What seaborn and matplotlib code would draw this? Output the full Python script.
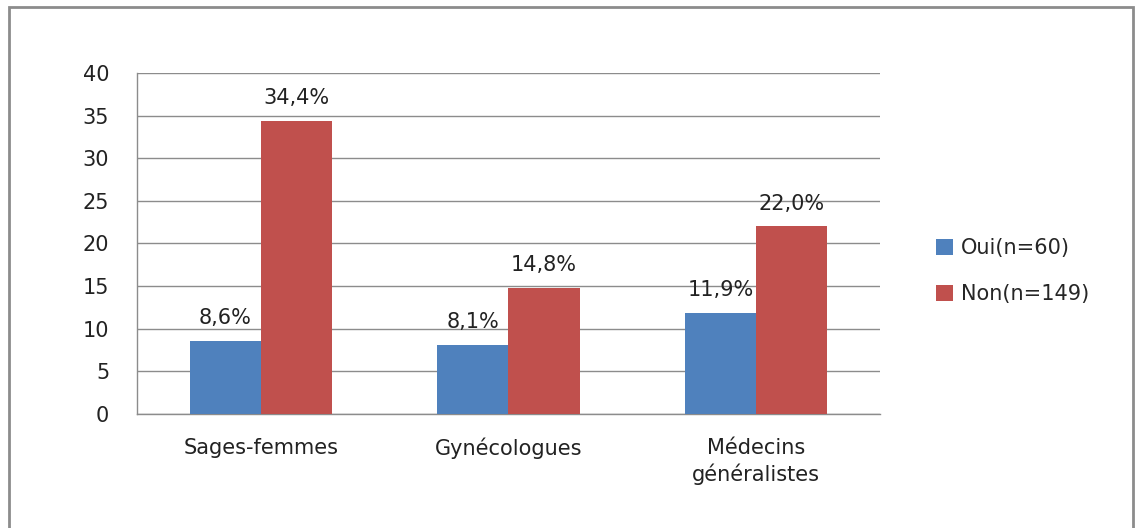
import pandas as pd
import seaborn as sns
import matplotlib.pyplot as plt
from matplotlib.patches import Rectangle

categories = ['Sages-femmes', 'Gynécologues', 'Médecins\ngénéralistes']
series = ['Oui(n=60)', 'Non(n=149)']
oui = [8.6, 8.1, 11.9]
non = [34.4, 14.8, 22.0]
yticks = [0, 5, 10, 15, 20, 25, 30, 35, 40]

df = pd.DataFrame({
    'cat': categories * 2,
    'serie': [series[0]] * 3 + [series[1]] * 3,
    'val': oui + non,
})

sns.set_style('white')
plt.rcParams['font.family'] = ['DejaVu Sans']

fig = plt.figure(figsize=(11.41, 5.28), dpi=100)
ax = fig.add_axes([137 / 1141, 114 / 528, 743 / 1141, 341 / 528])

sns.barplot(data=df, x='cat', y='val', hue='serie', order=categories, hue_order=series,
            palette=['#4F81BD', '#C0504D'], width=0.575, saturation=1, linewidth=0,
            ax=ax, zorder=3)

fs = 15
for cont in ax.containers:
    labels = [f'{v:.1f}%'.replace('.', ',') for v in cont.datavalues]
    ax.bar_label(cont, labels=labels, padding=9, fontsize=fs, color='#222222')

ax.set_ylim(0, 40)
ax.set_yticks(yticks)
ax.set_xlim(-0.5, 2.5)
ax.yaxis.grid(True, color='#8c8c8c', linewidth=1, zorder=0)
ax.set_axisbelow(True)
ax.tick_params(axis='both', length=0, labelsize=fs, colors='#222222')
ax.tick_params(axis='y', pad=20)
ax.tick_params(axis='x', pad=17)
for t in ax.get_xticklabels():
    t.set_linespacing(1.35)
ax.set_xlabel('')
ax.set_ylabel('')
for s in ['top', 'right']:
    ax.spines[s].set_visible(False)
for s in ['left', 'bottom']:
    ax.spines[s].set_color('#8c8c8c')
    ax.spines[s].set_linewidth(1)

ax.legend(loc='center left', bbox_to_anchor=(791 / 743, 0.418), frameon=False,
          fontsize=fs, handlelength=0.8, handleheight=0.8, labelspacing=1.25,
          handletextpad=0.4, borderaxespad=0)

fig.patches.append(Rectangle((9 / 1141, -0.01), 1124 / 1141, 1 - 7 / 528 + 0.01,
                             transform=fig.transFigure, fill=False, edgecolor='#8c8c8c', linewidth=2))

fig.savefig('out.png', dpi=100)
